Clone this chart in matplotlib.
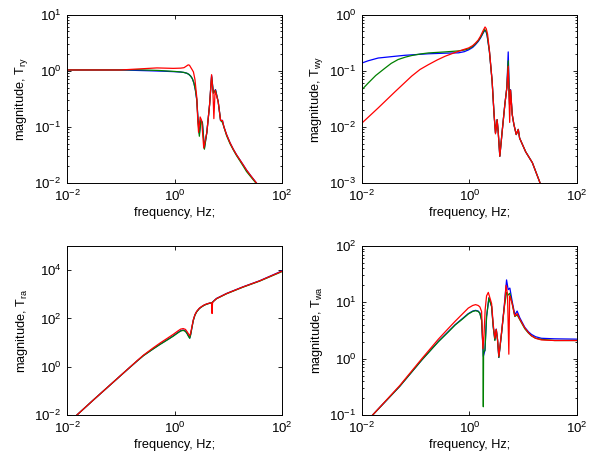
import numpy as np
import matplotlib
matplotlib.use("Agg")
import matplotlib.pyplot as plt
from matplotlib.ticker import LogLocator, NullLocator, NullFormatter, FixedLocator

plt.rcParams['font.family'] = 'Liberation Sans'
plt.rcParams['mathtext.fontset'] = 'custom'
plt.rcParams['mathtext.rm'] = 'Liberation Sans'
plt.rcParams['mathtext.it'] = 'Liberation Sans:italic'
plt.rcParams['mathtext.default'] = 'regular'

# --- T_ry (top left) ---
f_ry_b = [0.01, 0.1, 0.3, 0.6, 1.0, 1.3, 1.5, 1.7, 1.85, 2.0, 2.15, 2.3, 2.45, 2.6, 2.75, 2.9, 3.1, 3.3, 3.6,
          4.0, 4.5, 4.9, 5.3, 5.8, 6.5, 7.2, 7.8, 8.3, 9.3, 10.8, 12.4, 14.2, 16.4, 19, 21.9, 27, 33.5]
m_ry_b = [1.03, 1.03, 1.0, 0.98, 0.96, 0.945, 0.93, 0.9, 0.86, 0.8, 0.72, 0.6, 0.45, 0.3, 0.13, 0.075, 0.13, 0.12,
          0.042, 0.08, 0.25, 0.82, 0.4, 0.46, 0.28, 0.13, 0.13, 0.1, 0.073, 0.052, 0.04, 0.032, 0.026, 0.021, 0.017,
          0.013, 0.01]
f_ry_g = [0.01, 0.1, 0.2, 0.5, 1.0, 1.3, 1.5, 1.7, 1.85, 2.0, 2.15, 2.3, 2.45, 2.6, 2.75, 2.9, 3.1, 3.3, 3.6,
          4.0, 4.5, 4.9, 5.3, 5.8, 6.5, 7.2, 7.8, 8.3, 9.3, 10.8, 12.4, 14.2, 16.4, 19, 21.9, 27, 33.5]
m_ry_g = [1.03, 1.03, 1.04, 1.01, 0.97, 0.95, 0.93, 0.9, 0.86, 0.8, 0.72, 0.6, 0.45, 0.3, 0.12, 0.068, 0.13, 0.12,
          0.04, 0.08, 0.25, 0.78, 0.4, 0.45, 0.28, 0.13, 0.12, 0.1, 0.07, 0.05, 0.039, 0.031, 0.025, 0.02, 0.016,
          0.0125, 0.0097]
f_ry_r = [0.01, 0.1, 0.2, 0.47, 0.95, 1.3, 1.5, 1.65, 1.8, 1.9, 2.0, 2.12, 2.25, 2.4, 2.6, 2.7, 2.8, 3.0, 3.2,
          3.5, 4.0, 4.5, 4.9, 5.2, 5.4, 5.7, 6.5, 7.2, 7.8, 8.3, 9.3, 10.8, 12.4, 14.2, 16.4, 19, 21.9, 27, 33.5]
m_ry_r = [1.03, 1.03, 1.07, 1.12, 1.1, 1.11, 1.13, 1.2, 1.27, 1.25, 1.15, 1.05, 0.95, 0.7, 0.33, 0.14, 0.08, 0.15,
          0.13, 0.042, 0.08, 0.25, 0.85, 0.4, 0.14, 0.45, 0.28, 0.13, 0.13, 0.1, 0.073, 0.052, 0.04, 0.032, 0.026,
          0.021, 0.017, 0.013, 0.01]

# --- T_wy (top right) ---
f_wy_b = [0.01, 0.013, 0.02, 0.04, 0.063, 0.172, 0.353, 0.627, 0.8, 0.965, 1.15, 1.29, 1.45, 1.6, 1.8, 1.92,
          2.03, 2.13, 2.35, 2.64, 2.87, 3.05, 3.27, 3.42, 3.67, 4.06, 4.55, 4.96, 5.26, 5.57, 5.81, 6.25, 6.71,
          7.42, 8.09, 8.57, 11.1, 14.8, 20.6]
m_wy_b = [0.137, 0.15, 0.168, 0.18, 0.188, 0.2, 0.205, 0.208, 0.218, 0.235, 0.26, 0.29, 0.33, 0.38, 0.47, 0.52,
          0.5, 0.42, 0.22, 0.065, 0.0165, 0.0078, 0.0134, 0.0083, 0.003, 0.0083, 0.025, 0.05, 0.216, 0.025, 0.046,
          0.0165, 0.011, 0.0073, 0.009, 0.0063, 0.0036, 0.0023, 0.001]
f_wy_g = [0.01, 0.013, 0.018, 0.0265, 0.035, 0.047, 0.065, 0.084, 0.12, 0.172, 0.353, 0.627, 0.8, 0.965, 1.15,
          1.29, 1.45, 1.6, 1.8, 1.92, 2.03, 2.13, 2.35, 2.64, 2.87, 3.05, 3.27, 3.42, 3.67, 4.06, 4.55, 4.96, 5.26,
          5.57, 5.81, 6.25, 6.71, 7.42, 8.09, 8.57, 11.1, 14.8, 20.6]
m_wy_g = [0.046, 0.06, 0.082, 0.11, 0.135, 0.158, 0.175, 0.186, 0.198, 0.207, 0.216, 0.225, 0.233, 0.245, 0.27,
          0.3, 0.34, 0.39, 0.48, 0.54, 0.51, 0.43, 0.22, 0.065, 0.0165, 0.0078, 0.0134, 0.0083, 0.003, 0.0083,
          0.025, 0.05, 0.15, 0.025, 0.045, 0.0165, 0.011, 0.0073, 0.009, 0.0063, 0.0036, 0.0023, 0.001]
f_wy_r = [0.01, 0.02, 0.041, 0.084, 0.12, 0.172, 0.25, 0.353, 0.5, 0.627, 0.8, 0.965, 1.15, 1.29, 1.45, 1.6,
          1.8, 1.95, 2.05, 2.17, 2.35, 2.64, 2.87, 3.05, 3.27, 3.42, 3.67, 4.06, 4.55, 4.96, 5.26, 5.6, 5.81, 6.25,
          6.71, 7.42, 8.09, 8.57, 11.1, 14.8, 20.6]
m_wy_r = [0.0117, 0.0217, 0.042, 0.08, 0.105, 0.128, 0.155, 0.181, 0.205, 0.222, 0.24, 0.254, 0.28, 0.31, 0.35,
          0.41, 0.52, 0.6, 0.56, 0.45, 0.23, 0.065, 0.0165, 0.0075, 0.0134, 0.0083, 0.003, 0.0083, 0.025, 0.05,
          0.12, 0.012, 0.045, 0.0165, 0.011, 0.0073, 0.009, 0.0063, 0.0036, 0.0023, 0.001]

# --- T_ra (bottom left) ---
f_ra_b = [0.0153, 0.031, 0.13, 0.2, 0.264, 0.4, 0.54, 0.75, 0.95, 1.15, 1.3, 1.45, 1.6, 1.72, 1.82, 1.92,
          2.0, 2.1, 2.24, 2.4, 2.58, 2.9, 3.19, 3.6, 3.95, 4.5, 4.89, 5.0, 5.1, 5.4, 6.06, 9.3, 18.9, 38.5, 100]
m_ra_b = [0.01, 0.042, 0.73, 1.7, 2.9, 5.5, 8.6, 13.5, 19, 26, 31, 33, 30, 24, 19, 15.5,
          22, 40, 85, 140, 189, 260, 304, 360, 392, 430, 445, 360, 470, 537, 673, 1081, 2040, 3630, 9300]
f_ra_g = [0.0153, 0.031, 0.13, 0.2, 0.264, 0.4, 0.54, 0.75, 0.95, 1.15, 1.3, 1.45, 1.6, 1.72, 1.82, 1.92,
          2.0, 2.1, 2.24, 2.4, 2.58, 2.9, 3.19, 3.6, 3.95, 4.5, 4.89, 5.4, 6.06, 9.3, 18.9, 38.5, 100]
m_ra_g = [0.01, 0.042, 0.73, 1.7, 2.85, 5.4, 8.4, 13.2, 18.5, 25, 30, 32, 29, 23, 18, 15,
          21, 39, 82, 136, 185, 255, 300, 355, 385, 425, 440, 525, 655, 1050, 1980, 3520, 8700]
f_ra_r = [0.0153, 0.031, 0.13, 0.2, 0.264, 0.4, 0.54, 0.75, 0.95, 1.15, 1.3, 1.45, 1.6, 1.72, 1.82, 1.92,
          2.0, 2.1, 2.24, 2.4, 2.58, 2.9, 3.19, 3.6, 3.95, 4.5, 4.89, 5.0, 5.1, 5.4, 6.06, 9.3, 18.9, 38.5, 100]
m_ra_r = [0.01, 0.042, 0.74, 1.75, 3.0, 6.0, 9.6, 15.5, 22, 30, 36, 38, 35, 28, 23, 19,
          25, 43, 88, 143, 195, 265, 310, 365, 398, 432, 440, 160, 450, 530, 665, 1070, 2020, 3600, 9000]

# --- T_wa (bottom right) ---
f_wa_b = [0.0158, 0.05, 0.13, 0.264, 0.4, 0.54, 0.75, 0.95, 1.15, 1.3, 1.45, 1.56, 1.68, 1.81, 1.94, 2.08,
          2.3, 2.58, 2.77, 2.97, 3.15, 3.33, 3.52, 3.95, 4.43, 4.9, 5.25, 5.64, 6.23, 6.98, 7.7, 8.65, 10.7, 12.5,
          14.2, 17, 21.8, 38.5, 100]
m_wa_b = [0.1, 0.32, 0.95, 2.02, 3.0, 4.0, 5.2, 6.3, 7.0, 7.2, 7.0, 6.5, 4.9, 1.1, 1.4, 5.6,
          12, 8.5, 3.7, 2.16, 3.35, 2.16, 1.05, 2.85, 8.5, 25, 16.8, 17.9, 10.4, 6.0, 7.0, 5.3, 3.6, 3.0,
          2.7, 2.45, 2.3, 2.25, 2.22]
f_wa_g = [0.0158, 0.05, 0.13, 0.264, 0.4, 0.54, 0.75, 0.95, 1.15, 1.3, 1.45, 1.56, 1.68, 1.79, 1.81, 1.83,
          1.94, 2.08, 2.3, 2.58, 2.77, 2.97, 3.15, 3.33, 3.52, 3.95, 4.43, 4.9, 5.25, 5.64, 6.23, 6.98, 7.7,
          8.65, 10.7, 12.5, 14.2, 17, 21.8, 38.5, 100]
m_wa_g = [0.1, 0.32, 0.95, 2.0, 2.95, 3.95, 5.1, 6.2, 6.9, 7.1, 6.9, 6.4, 4.8, 1.5, 0.14, 1.3,
          1.4, 5.5, 12, 8.4, 3.6, 2.1, 3.3, 2.1, 1.05, 2.8, 8.0, 15, 13.5, 14.5, 9.5, 5.6, 6.0,
          4.9, 3.4, 2.85, 2.55, 2.3, 2.2, 2.1, 2.1]
f_wa_r = [0.0158, 0.05, 0.13, 0.264, 0.4, 0.54, 0.75, 0.95, 1.15, 1.3, 1.45, 1.56, 1.68, 1.78, 1.86, 1.96,
          2.08, 2.24, 2.58, 2.77, 2.97, 3.15, 3.33, 3.52, 3.95, 4.43, 4.8, 5.1, 5.4, 5.6, 5.8, 6.23, 6.98, 7.7,
          8.65, 10.7, 12.5, 14.2, 17, 21.8, 38.5, 100]
m_wa_r = [0.1, 0.33, 1.0, 2.22, 3.4, 4.6, 6.3, 7.9, 8.8, 9.1, 8.8, 8.3, 6.9, 1.5, 2.5, 7.5,
          13.0, 15, 9.5, 4.0, 2.3, 3.3, 2.2, 1.1, 2.9, 8.0, 20, 14, 1.2, 13, 12, 9.5, 5.7, 6.3,
          5.0, 3.5, 2.9, 2.55, 2.3, 2.15, 2.1, 2.1]

panels = [
    ([0.1115, 0.603, 0.3577, 0.3655], 'magnitude, T$_{ry}$', (1e-2, 1e1), [1e-2, 1e-1, 1e0, 1e1], True,
     [(f_ry_b, m_ry_b), (f_ry_g, m_ry_g), (f_ry_r, m_ry_r)]),
    ([0.6023, 0.603, 0.3577, 0.3655], 'magnitude, T$_{wy}$', (1e-3, 1e0), [1e-3, 1e-2, 1e-1, 1e0], True,
     [(f_wy_b, m_wy_b), (f_wy_g, m_wy_g), (f_wy_r, m_wy_r)]),
    ([0.1115, 0.0998, 0.3577, 0.3666], 'magnitude, T$_{ra}$', (1e-2, 1e5), [1e-2, 1e0, 1e2, 1e4], False,
     [(f_ra_b, m_ra_b), (f_ra_g, m_ra_g), (f_ra_r, m_ra_r)]),
    ([0.6023, 0.0998, 0.3577, 0.3666], 'magnitude, T$_{wa}$', (1e-1, 1e2), [1e-1, 1e0, 1e1, 1e2], True,
     [(f_wa_b, m_wa_b), (f_wa_g, m_wa_g), (f_wa_r, m_wa_r)]),
]
colors = ['#0000ff', '#008000', '#ff0000']

fig = plt.figure(figsize=(6.01, 4.61), dpi=100)
for rect, ylab, ylim, yticks, minor, series in panels:
    ax = fig.add_axes(rect)
    for (f, m), c in zip(series, colors):
        ax.loglog(f, m, color=c, lw=0.9)
    ax.set_xlim(1e-2, 1e2)
    ax.set_ylim(*ylim)
    ax.xaxis.set_major_locator(FixedLocator([1e-2, 1e0, 1e2]))
    ax.xaxis.set_minor_locator(NullLocator())
    ax.yaxis.set_major_locator(FixedLocator(yticks))
    if minor:
        ax.yaxis.set_minor_locator(LogLocator(base=10, subs=np.arange(2, 10)))
    else:
        ax.yaxis.set_minor_locator(NullLocator())
    ax.yaxis.set_minor_formatter(NullFormatter())
    ax.tick_params(which='both', direction='in', top=True, right=True, width=0.6, labelsize=9.5)
    ax.tick_params(which='major', length=3, pad=4)
    ax.tick_params(which='minor', length=1.6)
    for s in ax.spines.values():
        s.set_linewidth(0.7)
    ax.set_xlabel('frequency, Hz;', fontsize=9.2, labelpad=2)
    ax.set_ylabel(ylab, fontsize=9.2, labelpad=3)

fig.savefig('out.png', dpi=100)
